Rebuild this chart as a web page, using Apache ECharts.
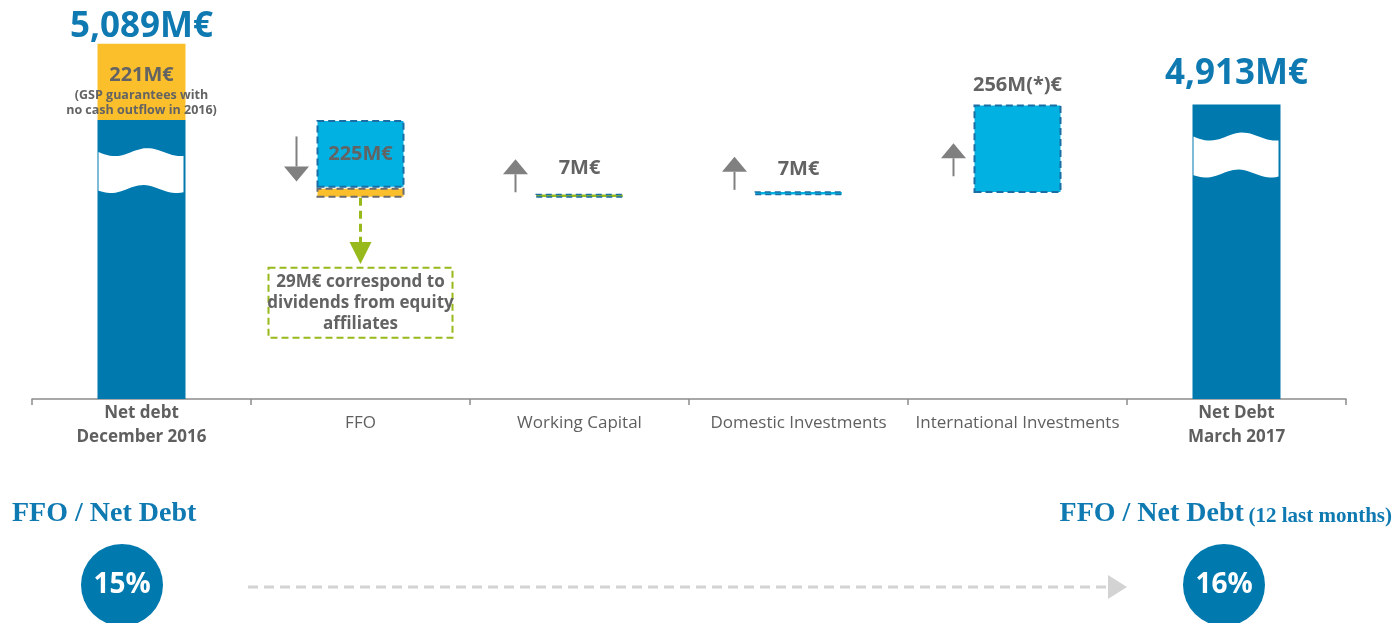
<!DOCTYPE html>
<html lang="en">
<head>
<meta charset="utf-8">
<title>Net debt evolution</title>
<script src="https://cdn.jsdelivr.net/npm/echarts@6/dist/echarts.min.js"></script>
<style>
  html, body { margin: 0; padding: 0; background: #fff; }
  #netDebtChart { width: 1395px; height: 623px; }
</style>
</head>
<body>
<div id="netDebtChart"></div>
<script>
// ---- data (M€) ----
const categories = ["Net debt\nDecember 2016", "FFO", "Working Capital", "Domestic Investments", "International Investments", "Net Debt\nMarch 2017"];
const openingDebt = [4868];            // Dec 2016 without the GSP guarantees
const gspGuarantees = [221];           // GSP guarantees, no cash outflow in 2016
const movements = [-225, 7, 7, 256];   // FFO, working capital, domestic, international
const movementLabels = ["225M€", "7M€", "7M€", "256M(*)€"];
const ffoDividends = [29];             // part of the FFO from equity affiliates
const closingDebt = [4913];
const ratioPeriods = ["December 2016", "March 2017"];
const ffoToNetDebt = [15, 16];         // %

(function (window, document) {
    "use strict";

    const SEL = { chart: "#netDebtChart" };
    const FONT = "'Open Sans', sans-serif";
    const SERIF = "'Liberation Serif', 'DejaVu Serif', serif";
    const C = {
        navy: "#0079ae", navyText: "#0f79b1", sky: "#00b1e1", gold: "#fcbf2c", lime: "#98b91c",
        text: "#5f5f5f", label: "#636363", arrow: "#808080", rule: "#8c8c8c", dash: "#1a6ea3", ghost: "#d3d3d3"
    };
    const BAR_W = 88;

    const fmt = v => v.toLocaleString("en-US") + "M€";
    const blank = () => categories.map(() => "-");

    // ---- waterfall pieces from the arrays ----
    function buildWaterfall() {
        const last = categories.length - 1;
        const total = blank(), base = blank(), gsp = blank(), div = blank(), move = blank();
        const steps = [];
        let level = openingDebt[0];
        total[0] = openingDebt[0];
        gsp[0] = gspGuarantees[0];
        movements.forEach((m, i) => {
            const idx = i + 1, next = level + m, low = Math.min(level, next);
            let h = Math.abs(m);
            if (idx === 1) { div[idx] = ffoDividends[0]; h -= ffoDividends[0]; }
            base[idx] = low;
            move[idx] = h;
            steps.push([idx, low, Math.max(level, next), m < 0 ? -1 : 1]);
            level = next;
        });
        total[last] = closingDebt[0];
        return { total, base, gsp, div, move, steps };
    }

    const MOVE_STYLE = [
        { color: C.sky, label: { position: "inside" } },
        { color: C.lime, label: { position: "top", distance: 15 } },
        { color: C.sky, label: { position: "top", distance: 12 } },
        { color: C.sky, label: { position: "top", distance: 9 } }
    ];

    function barSeries(name, data, extra) {
        return Object.assign({ name, type: "bar", stack: "wf", barWidth: BAR_W, clip: true, silent: true, data }, extra);
    }

    // white wavy band = axis break marker on the two totals
    function renderBreak(params, api) {
        const top = api.coord([api.value(0), api.value(1)]);
        const x0 = top[0] - BAR_W / 2 + 1, x1 = top[0] + BAR_W / 2 - 2;
        const y0 = top[1] + 32, y1 = top[1] + 69, N = 30;
        const pts = [];
        for (let k = 0; k <= N; k++) { const t = k / N; pts.push([x0 + t * (x1 - x0), y0 + 4 * Math.sin(t * Math.PI * 2.6)]); }
        for (let k = N; k >= 0; k--) { const t = k / N; pts.push([x0 + t * (x1 - x0), y1 + 4 * Math.sin(t * Math.PI * 2.6 + 0.4)]); }
        return { type: "polygon", shape: { points: pts }, style: { fill: "#fff" } };
    }

    // grey up / down arrow left of each movement
    function renderArrow(params, api) {
        const idx = api.value(0), dir = api.value(3);
        const pLow = api.coord([idx, api.value(1)]), pHigh = api.coord([idx, api.value(2)]);
        const x = pLow[0] - BAR_W / 2 - 20;
        const mid = (pLow[1] + pHigh[1]) / 2;
        const len = dir < 0 ? 45 : 33, head = 15, half = 12.5;
        const cy = dir < 0 ? mid : Math.min(mid + 11, pLow[1] - 22);
        const tip = cy - dir * len / 2, tail = cy + dir * len / 2, neck = tip + dir * head;
        return {
            type: "group",
            children: [
                { type: "line", shape: { x1: x, y1: tail, x2: x, y2: neck }, style: { stroke: C.arrow, lineWidth: 2 } },
                { type: "polygon", shape: { points: [[x - half, neck], [x + half, neck], [x, tip]] }, style: { fill: C.arrow } }
            ]
        };
    }

    function buildOption() {
        const wf = buildWaterfall();
        const last = categories.length - 1;
        const dashed = { borderColor: C.dash, borderWidth: 2, borderType: [7, 4] };
        const thin = { borderColor: C.dash, borderWidth: 1.5, borderType: [6, 4] };
        const valueLabel = { show: true, color: C.label, fontFamily: FONT, fontWeight: "bold", fontSize: 20 };

        const moveData = wf.move.map((v, i) => {
            if (v === "-") return v;
            const st = MOVE_STYLE[i - 1];
            return {
                value: v,
                itemStyle: Object.assign({ color: st.color }, v < 20 ? thin : dashed),
                label: Object.assign({}, valueLabel, st.label, { formatter: movementLabels[i - 1] })
            };
        });

        const opening = openingDebt[0] + gspGuarantees[0];
        const divBase = wf.base[1];

        return {
            animation: false,
            textStyle: { fontFamily: FONT },
            title: [
                { text: "FFO / Net Debt", left: 12, top: 500, padding: 0,
                  textStyle: { fontFamily: SERIF, fontWeight: "bold", fontSize: 28, color: C.navyText } },
                { text: "{m|FFO / Net Debt} {s|(12 last months)}", right: 3, top: 500, padding: 0,
                  textStyle: { rich: {
                      m: { fontFamily: SERIF, fontWeight: "bold", fontSize: 28, color: C.navyText },
                      s: { fontFamily: SERIF, fontWeight: "bold", fontSize: 21, color: C.navyText, padding: [5, 0, 0, 0] }
                  } } }
            ],
            grid: [
                { left: 32, right: 49, top: 0, bottom: 224, containLabel: false },
                { left: 122, right: 171, top: 565, height: 40, containLabel: false }
            ],
            xAxis: [
                {
                    type: "category", data: categories, gridIndex: 0,
                    axisLine: { lineStyle: { color: C.rule, width: 1.5 } },
                    axisTick: { show: true, length: 6, lineStyle: { color: C.rule, width: 1.5 } },
                    axisLabel: {
                        interval: 0, margin: 2, color: C.text,
                        formatter: (v, i) => (i === 0 || i === last)
                            ? v.split("\n").map(s => "{b|" + s + "}").join("\n")
                            : "{n|" + v + "}",
                        rich: {
                            b: { fontFamily: FONT, fontWeight: "bold", fontSize: 17, lineHeight: 24, color: C.text },
                            n: { fontFamily: FONT, fontSize: 17, lineHeight: 44, color: C.text }
                        }
                    }
                },
                { type: "category", data: ratioPeriods, gridIndex: 1, boundaryGap: false, show: false }
            ],
            yAxis: [
                { type: "value", gridIndex: 0, min: 4060, max: 5216, show: false, splitLine: { show: false } },
                { type: "category", data: ["ratio"], gridIndex: 1, show: false }
            ],
            series: [
                barSeries("Net debt", wf.total, {
                    itemStyle: { color: C.navy },
                    markPoint: {
                        silent: true, symbol: "circle", symbolSize: 0,
                        label: { show: true, formatter: p => p.name, color: C.navyText, fontFamily: FONT, fontWeight: "bold", fontSize: 35 },
                        data: [
                            { name: fmt(opening), coord: [categories[0], opening], label: { offset: [0, -17] } },
                            { name: fmt(closingDebt[0]), coord: [categories[last], closingDebt[0]], label: { offset: [0, -31] } }
                        ]
                    }
                }),
                barSeries("base", wf.base, { itemStyle: { color: "transparent" } }),
                barSeries("GSP guarantees", wf.gsp, {
                    itemStyle: { color: C.gold },
                    label: {
                        show: true, position: "inside", offset: [0, 8],
                        formatter: "{a|" + fmt(gspGuarantees[0]) + "}\n{b|(GSP guarantees with}\n{b|no cash outflow in 2016)}",
                        rich: {
                            a: { fontFamily: FONT, fontWeight: "bold", fontSize: 20, lineHeight: 26, color: C.label },
                            b: { fontFamily: FONT, fontWeight: "bold", fontSize: 12.5, lineHeight: 15, color: C.label }
                        }
                    }
                }),
                barSeries("Dividends", wf.div, {
                    itemStyle: { color: C.gold, borderColor: "#6b6b6b", borderWidth: 2, borderType: [7, 4] },
                    label: {
                        show: true, position: "bottom", distance: 70,
                        formatter: fmt(ffoDividends[0]) + " correspond to\ndividends from equity\naffiliates",
                        color: C.label, fontFamily: FONT, fontWeight: "bold", fontSize: 17, lineHeight: 21,
                        borderColor: C.lime, borderWidth: 2, borderType: [7, 4],
                        padding: [4, 2, 3, 2], width: 180, align: "center"
                    },
                    markLine: {
                        silent: true, symbol: ["none", "triangle"], symbolSize: 22,
                        label: { show: false },
                        lineStyle: { color: C.lime, width: 3, type: [8, 5] },
                        data: [[{ coord: [categories[1], divBase] }, { coord: [categories[1], divBase - 160] }]]
                    }
                }),
                barSeries("Movements", moveData, { barMinHeight: 4 }),
                {
                    name: "breaks", type: "custom", z: 3, silent: true,
                    encode: { x: 0, y: 1 },
                    data: [[0, openingDebt[0]], [last, closingDebt[0]]],
                    renderItem: renderBreak
                },
                {
                    name: "arrows", type: "custom", z: 3, silent: true,
                    encode: { x: 0, y: [1, 2] },
                    data: wf.steps,
                    renderItem: renderArrow
                },
                {
                    name: "FFO / Net Debt", type: "scatter", xAxisIndex: 1, yAxisIndex: 1, silent: true,
                    symbolSize: 82, itemStyle: { color: C.navy, opacity: 1 },
                    label: { show: true, position: "inside", formatter: p => p.value[2] + "%", color: "#fff", fontFamily: FONT, fontWeight: "bold", fontSize: 28 },
                    data: ffoToNetDebt.map((v, i) => [i, 0, v])
                }
            ],
            graphic: [{
                type: "group", silent: true,
                children: [
                    { type: "line", shape: { x1: 248, y1: 587, x2: 1108, y2: 587 }, style: { stroke: C.ghost, lineWidth: 3, lineDash: [10, 6] } },
                    { type: "polygon", shape: { points: [[1108, 575], [1127, 587], [1108, 599]] }, style: { fill: C.ghost } }
                ]
            }]
        };
    }

    function init() {
        const el = document.querySelector(SEL.chart);
        if (!el || !window.echarts) return;
        const chart = echarts.init(el, null, { renderer: "canvas" });
        chart.setOption(buildOption());
        window.addEventListener("resize", () => chart.resize());
    }

    init();
})(window, document);
</script>
</body>
</html>
